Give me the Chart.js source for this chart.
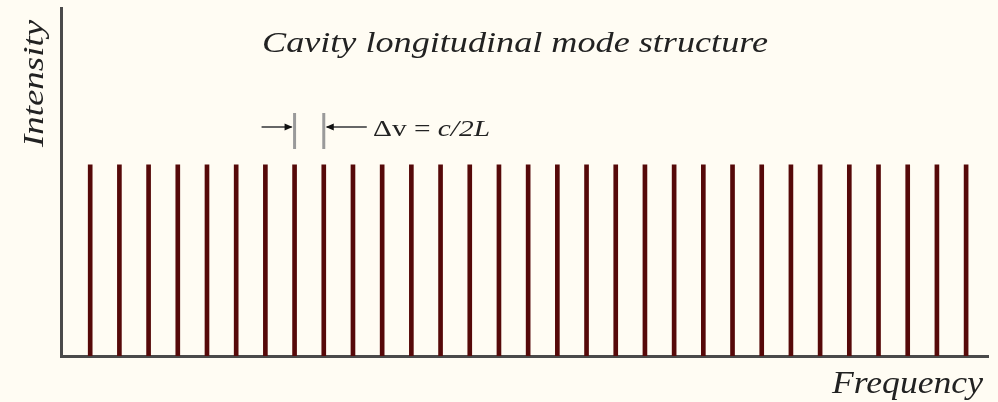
<!DOCTYPE html>
<html>
<head>
<meta charset="utf-8">
<script src="https://cdn.jsdelivr.net/npm/chart.js@4/dist/chart.umd.min.js"></script>
<style>
  html, body { margin: 0; padding: 0; background: #fffcf3; }
  #wrap { width: 998px; height: 402px; }
</style>
</head>
<body>
<div id="wrap"><canvas id="c" width="998" height="402"></canvas></div>
<script>
// Longitudinal mode indices (frequency axis) and their relative intensities
const modeIndex = [1,2,3,4,5,6,7,8,9,10,11,12,13,14,15,16,17,18,19,20,21,22,23,24,25,26,27,28,29,30,31];
const modeIntensity = [1,1,1,1,1,1,1,1,1,1,1,1,1,1,1,1,1,1,1,1,1,1,1,1,1,1,1,1,1,1,1];
// The two adjacent modes marked by the spacing annotation
const spacingModes = [8, 9];

const titleText = 'Cavity longitudinal mode structure';
const xTitle = 'Frequency';
const yTitle = 'Intensity';

const points = modeIndex.map((m, i) => ({ x: m, y: modeIntensity[i] }));

// draws text starting at x, stretched horizontally to the given width
function wideText(ctx, text, x, y, width) {
  const w = ctx.measureText(text).width;
  ctx.save();
  ctx.translate(x, y);
  ctx.scale(width / w, 1);
  ctx.textAlign = 'left';
  ctx.fillText(text, 0, 0);
  ctx.restore();
}

const textPlugin = {
  id: 'modeText',
  afterDraw(chart) {
    const ctx = chart.ctx;
    const xs = chart.scales.x;
    ctx.save();
    ctx.fillStyle = '#222';
    ctx.textBaseline = 'alphabetic';

    // main heading
    ctx.font = 'italic 30px "Liberation Serif", "DejaVu Serif", serif';
    wideText(ctx, titleText, 262, 52, 506);

    // axis titles
    ctx.font = 'italic 31px "Liberation Serif", serif';
    wideText(ctx, xTitle, 832, 393, 151);

    ctx.save();
    ctx.translate(43, 147);
    ctx.rotate(-Math.PI / 2);
    ctx.font = 'italic 30px "Liberation Serif", serif';
    wideText(ctx, yTitle, 0, 0, 127);
    ctx.restore();

    // spacing markers between two adjacent modes
    const xa = xs.getPixelForValue(spacingModes[0]);
    const xb = xs.getPixelForValue(spacingModes[1]);
    const yTop = 113, yBot = 149, yMid = 127;
    ctx.strokeStyle = '#9a9a9a';
    ctx.lineWidth = 3;
    ctx.beginPath();
    ctx.moveTo(xa, yTop); ctx.lineTo(xa, yBot);
    ctx.moveTo(xb, yTop); ctx.lineTo(xb, yBot);
    ctx.stroke();

    ctx.strokeStyle = '#666';
    ctx.lineWidth = 2;
    ctx.beginPath();
    ctx.moveTo(xa - 33, yMid); ctx.lineTo(xa - 3, yMid);
    ctx.moveTo(xb + 3, yMid); ctx.lineTo(xb + 43, yMid);
    ctx.stroke();
    ctx.fillStyle = '#111';
    ctx.beginPath();
    ctx.moveTo(xa - 2, yMid); ctx.lineTo(xa - 10, yMid - 3.5); ctx.lineTo(xa - 10, yMid + 3.5); ctx.closePath();
    ctx.moveTo(xb + 2, yMid); ctx.lineTo(xb + 10, yMid - 3.5); ctx.lineTo(xb + 10, yMid + 3.5); ctx.closePath();
    ctx.fill();

    ctx.fillStyle = '#222';
    ctx.font = '24px "Liberation Serif", serif';
    const part1 = '\u0394v = ';
    const w1 = ctx.measureText(part1).width;
    ctx.font = 'italic 24px "Liberation Serif", serif';
    const w2 = ctx.measureText('c/2L').width;
    const k = 117 / (w1 + w2);
    ctx.save();
    ctx.translate(373, 136);
    ctx.scale(k, 1);
    ctx.textAlign = 'left';
    ctx.font = '24px "Liberation Serif", serif';
    ctx.fillText(part1, 0, 0);
    ctx.font = 'italic 24px "Liberation Serif", serif';
    ctx.fillText('c/2L', w1, 0);
    ctx.restore();
    ctx.restore();
  }
};

new Chart(document.getElementById('c'), {
  type: 'bar',
  data: {
    datasets: [{
      data: points,
      backgroundColor: '#560909',
      borderWidth: 0,
      barThickness: 4
    }]
  },
  options: {
    responsive: false,
    animation: false,
    events: [],
    layout: { padding: { left: 53, right: 10, top: 8, bottom: 38 } },
    plugins: { legend: { display: false }, tooltip: { enabled: false }, title: { display: false } },
    scales: {
      x: {
        type: 'linear',
        min: 0,
        max: 31.75,
        offset: false,
        grid: { display: false },
        ticks: { display: false },
        border: { display: true, color: '#4a4a4a', width: 3 }
      },
      y: {
        min: 0,
        max: 1.82,
        grid: { display: false },
        ticks: { display: false },
        border: { display: true, color: '#4a4a4a', width: 3 }
      }
    }
  },
  plugins: [textPlugin]
});
</script>
</body>
</html>
